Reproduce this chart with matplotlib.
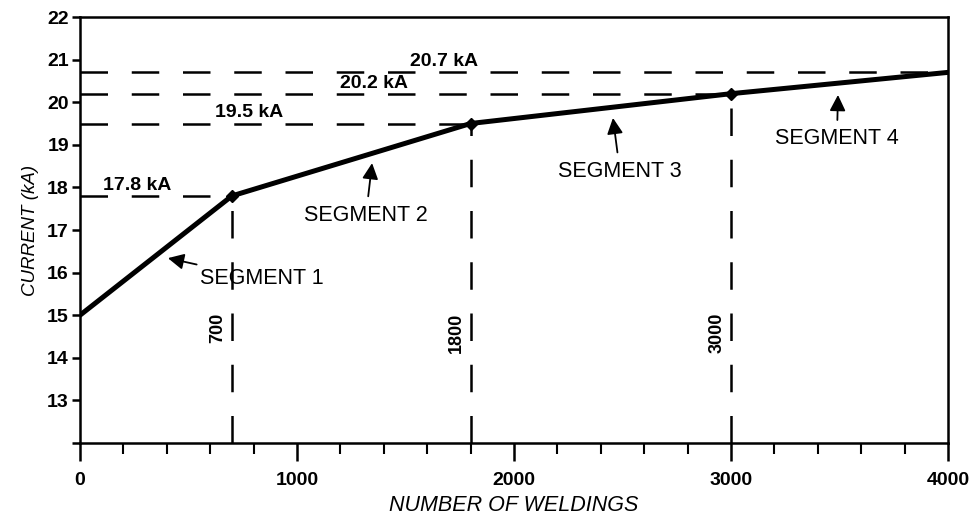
import numpy as np
import matplotlib.pyplot as plt
from matplotlib.ticker import MultipleLocator

plt.rcParams['font.family'] = ['Liberation Sans', 'DejaVu Sans']

# Piecewise current schedule
weldings = [0, 700, 1800, 3000, 4000]
current = [15.0, 17.8, 19.5, 20.2, 20.7]

# Breakpoints that get markers / guide lines
break_x = [700, 1800, 3000]
break_y = [17.8, 19.5, 20.2]
level_labels = ['17.8 kA', '19.5 kA', '20.2 kA', '20.7 kA']
level_text_x = [262, 779, 1355, 1680]
level_y = [17.8, 19.5, 20.2, 20.7]
level_end_x = [700, 1800, 3000, 4000]

seg_labels = ['SEGMENT 1', 'SEGMENT 2', 'SEGMENT 3', 'SEGMENT 4']
seg_tip = [(405, 16.34), (1346, 18.57), (2456, 19.63), (3493, 20.17)]
seg_text = [(553, 15.85), (1318, 17.35), (2488, 18.38), (3488, 19.14)]
seg_ha = ['left', 'center', 'center', 'center']

fig = plt.figure(figsize=(9.74, 5.17), dpi=100)
ax = fig.add_axes([80/974, 1-443/517, 868/974, 426/517])

dash = (0, (11, 9.5))
for xe, yl in zip(level_end_x, level_y):
    ax.plot([0, xe], [yl, yl], color='black', lw=1.8, linestyle=dash, zorder=2)
for xb, yb in zip(break_x, break_y):
    ax.plot([xb, xb], [12, yb], color='black', lw=1.8, linestyle=dash, zorder=2)
    ax.text(xb - 25, 15.05, str(xb), rotation=90, ha='right', va='top',
            fontsize=13, fontweight='bold')

ax.plot(weldings, current, color='black', lw=3.6, zorder=3, solid_joinstyle='miter')
ax.plot(break_x, break_y, linestyle='none', marker='D', ms=6, color='black', zorder=4)

for lab, tx, yl in zip(level_labels, level_text_x, level_y):
    ax.text(tx, yl + 0.05, lab, ha='center', va='bottom', fontsize=14, fontweight='bold')

for lab, tip, txt, ha in zip(seg_labels, seg_tip, seg_text, seg_ha):
    ax.annotate(lab, xy=tip, xytext=txt, ha=ha, va='center', fontsize=15.5,
                arrowprops=dict(arrowstyle='-|>', color='black', lw=1.3,
                                mutation_scale=24, shrinkA=4, shrinkB=0))

ax.set_xlim(0, 4000)
ax.set_ylim(12, 22)
ax.set_xticks([0, 1000, 2000, 3000, 4000])
ax.xaxis.set_minor_locator(MultipleLocator(200))
ax.set_yticks(np.arange(12, 23, 1))
ax.set_yticklabels([''] + [str(v) for v in range(13, 23)])

for s in ax.spines.values():
    s.set_linewidth(1.8)
ax.tick_params(axis='x', which='major', length=13, width=1.8, pad=8, labelsize=14)
ax.tick_params(axis='x', which='minor', length=8, width=1.5)
ax.tick_params(axis='y', which='major', length=6, width=1.8, pad=2, labelsize=14)
for t in ax.get_xticklabels() + ax.get_yticklabels():
    t.set_fontweight('bold')

ax.set_xlabel('NUMBER OF WELDINGS', fontsize=15.5, fontstyle='italic', labelpad=4)
ax.set_ylabel('CURRENT (kA)', fontsize=13.5, fontstyle='italic', labelpad=6)

fig.savefig('out.png', dpi=100)
